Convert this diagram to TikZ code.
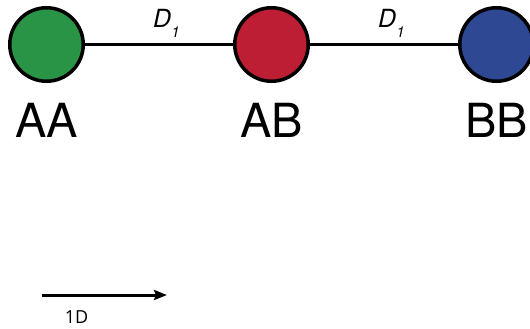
\documentclass[tikz,border=0pt]{standalone}
\usepackage{fontspec}
\setmainfont{TeX Gyre Heros}
\newfontfamily\scalefont{Open Sans}
\usetikzlibrary{positioning,arrows.meta}
\definecolor{aagreen}{RGB}{41,148,69}
\definecolor{abred}{RGB}{190,30,52}
\definecolor{bbblue}{RGB}{46,72,148}
\tikzset{
    genotype/.style={circle, draw=black, line width=3.5pt, minimum size=73.5pt, inner sep=0pt},
    gtlabel/.style={inner sep=0pt, font=\fontsize{47}{47}\selectfont},
    dlabel/.style={inner sep=0pt, font=\itshape\fontsize{25}{25}\selectfont}
}
\newcommand{\dist}{D\raisebox{-10pt}{\fontsize{15}{15}\selectfont 1}}
\begin{document}
\begin{tikzpicture}[x=1pt, y=-1pt]
        \useasboundingbox (0,0) rectangle (530,329);
        % Genotypes
        \foreach \n/\x/\c/\t in {aa/46.5/aagreen/AA, ab/271.5/abred/AB, bb/496.5/bbblue/BB} {
            \node[genotype, fill=\c] (\n) at (\x,44.5) {};
            \node[gtlabel, below=20pt of \n] (\n lbl) {\t};
        }
        % Distances
        \draw[line width=2.5pt] (aa) -- node[dlabel, pos=0.55, above=6pt] (d1) {\dist} (ab);
        \draw[line width=2.5pt] (ab) -- node[dlabel, pos=0.55, above=6pt] (d2) {\dist} (bb);
        % Scale arrow
        \coordinate (arrstart) at (42,295);
        \coordinate (arrend) at (167,295);
        \draw[line width=3pt, -{Stealth[length=13pt, width=10pt, inset=2pt]}] (arrstart) -- (arrend);
        \node[inner sep=0pt, font=\scalefont\fontsize{18}{18}\selectfont] (scale) at (76.5,317.5) {1D};
    \end{tikzpicture}
\end{document}
